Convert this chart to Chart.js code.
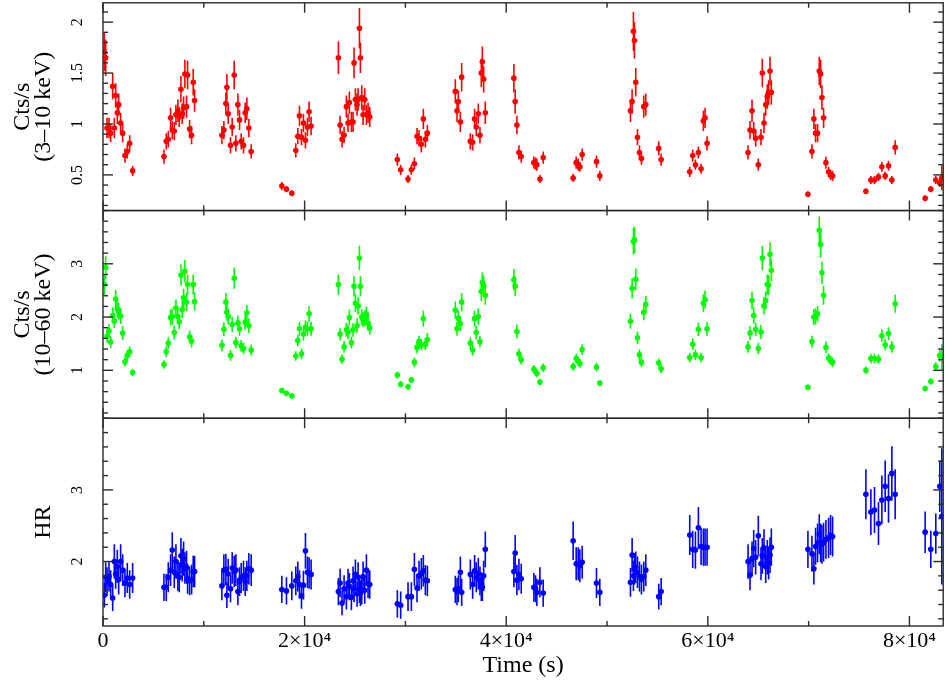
<!DOCTYPE html>
<html>
<head>
<meta charset="utf-8">
<script src="https://cdn.jsdelivr.net/npm/chart.js"></script>
<style>
  html, body { margin: 0; padding: 0; background: #ffffff; }
  #c { display: block; }
</style>
</head>
<body>
<canvas id="c" width="946" height="684"></canvas>
<script>
// ---------- data ----------
// time bins (s)
const times = [
  130, 265, 400, 595, 760, 960, 1125, 1255, 1420, 1555, 1750, 1950, 2180, 2410, 2645, 2940,
  6045, 6275, 6475, 6705, 6870, 7070, 7235, 7430, 7565, 7730, 7860, 7995, 8125, 8290, 8390, 8590, 8790, 8950, 9085,
  11795, 11990, 12190, 12290, 12420, 12650, 12815, 13015, 13180, 13380, 13545, 13710, 13940, 14105, 14270, 14470, 14700,
  17740, 18200, 18730, 19125, 19325, 19490, 19690, 19885, 20085, 20280, 20445, 20645,
  23350, 23520, 23715, 23915, 24145, 24310, 24440, 24640, 24805, 24905, 25040, 25205, 25305, 25440, 25535, 25670, 25800, 25965, 26130, 26295, 26460,
  29200, 29530, 30260, 30590, 30890, 31150, 31350, 31580, 31780, 31980, 32180,
  34950, 35120, 35250, 35450, 35580, 36440, 36670, 36865, 37030, 37230, 37395, 37530, 37630, 37760, 37925,
  40760, 40890, 41060, 41260, 41490, 42745, 42910, 43040, 43340, 43670,
  46640, 46940, 47140, 47305, 47535, 48955, 49285,
  52325, 52490, 52620, 52720, 52850, 53020, 53220, 53415, 53645, 53845, 55130, 55370,
  58205, 58500, 58770, 59065, 59330, 59560, 59725, 59925,
  63990, 64185, 64385, 64550, 64745, 65010, 65275, 65405, 65575, 65740, 65900, 66035, 66170, 66300,
  69930, 70325, 70520, 70690, 70885, 71055, 71190, 71320, 71485, 71715, 71980, 72175, 72375,
  75680, 76175, 76535, 76930, 77265, 77595, 77925, 78255, 78585,
  81560, 82120, 82615, 83010, 83210
];

// 3-10 keV count rate (Cts/s)
const soft = [
  1.71, 1.65, 0.96, 0.96, 0.91, 1.37, 0.96, 1.28, 1.11, 1.19, 1.01, 0.91, 0.69, 0.73, 0.81, 0.54,
  0.68, 0.83, 0.85, 1.06, 0.94, 0.93, 1.09, 1.13, 1.07, 1.34, 1.10, 1.16, 1.49, 1.17, 1.48, 0.95, 0.89, 1.41, 1.23,
  0.89, 0.94, 1.20, 1.36, 1.10, 0.79, 0.97, 1.48, 0.81, 1.19, 1.04, 0.83, 0.79, 1.11, 1.15, 0.96, 0.73,
  0.39, 0.36, 0.32, 0.74, 0.88, 1.08, 0.87, 1.01, 0.84, 0.97, 1.12, 0.98,
  1.65, 0.99, 0.85, 0.89, 1.17, 1.01, 1.21, 1.02, 1.02, 1.60, 1.24, 1.19, 1.24, 1.94, 1.65, 1.26, 1.09, 1.24, 1.09, 1.11, 1.07,
  0.65, 0.55, 0.46, 0.55, 0.61, 0.88, 0.86, 0.80, 1.05, 0.85, 0.91,
  1.32, 1.13, 1.22, 1.02, 1.46, 0.83, 0.82, 1.05, 0.97, 1.10, 0.89, 1.50, 1.61, 1.44, 1.11,
  1.45, 1.22, 0.99, 0.72, 0.68, 0.62, 0.61, 0.60, 0.46, 0.67,
  0.47, 0.62, 0.60, 0.58, 0.70, 0.63, 0.49,
  1.13, 1.22, 1.91, 1.82, 1.41, 0.87, 0.72, 0.66, 1.17, 1.19, 0.76, 0.65,
  0.53, 0.69, 0.60, 0.72, 0.56, 1.03, 1.06, 0.81,
  0.72, 0.94, 1.13, 0.93, 0.86, 0.60, 0.87, 1.50, 1.01, 1.19, 1.27, 1.31, 1.52, 1.31,
  0.31, 0.73, 1.05, 0.91, 0.91, 1.52, 1.49, 1.26, 1.06, 0.62, 0.53, 0.50, 0.49,
  0.34, 0.45, 0.45, 0.48, 0.58, 0.49, 0.59, 0.45, 0.77,
  0.27, 0.36, 0.45, 0.42, 0.47
];
const softErr = [
  0.19, 0.18, 0.10, 0.10, 0.09, 0.13, 0.10, 0.12, 0.11, 0.11, 0.10, 0.09, 0.07, 0.07, 0.08, 0.05,
  0.07, 0.08, 0.08, 0.10, 0.09, 0.09, 0.10, 0.11, 0.10, 0.13, 0.10, 0.11, 0.14, 0.11, 0.14, 0.09, 0.09, 0.13, 0.11,
  0.09, 0.09, 0.11, 0.13, 0.10, 0.08, 0.09, 0.14, 0.08, 0.11, 0.10, 0.08, 0.08, 0.10, 0.11, 0.09, 0.07,
  0.04, 0.03, 0.03, 0.07, 0.08, 0.10, 0.08, 0.09, 0.08, 0.09, 0.10, 0.09,
  0.16, 0.09, 0.08, 0.08, 0.11, 0.09, 0.11, 0.10, 0.10, 0.15, 0.11, 0.11, 0.11, 0.20, 0.15, 0.12, 0.10, 0.11, 0.10, 0.10, 0.10,
  0.06, 0.05, 0.04, 0.05, 0.06, 0.08, 0.08, 0.08, 0.10, 0.08, 0.08,
  0.12, 0.11, 0.11, 0.10, 0.14, 0.08, 0.08, 0.10, 0.09, 0.10, 0.08, 0.14, 0.15, 0.13, 0.11,
  0.14, 0.12, 0.09, 0.07, 0.06, 0.06, 0.06, 0.06, 0.04, 0.06,
  0.04, 0.06, 0.06, 0.05, 0.06, 0.06, 0.05,
  0.11, 0.12, 0.19, 0.18, 0.14, 0.08, 0.07, 0.06, 0.11, 0.11, 0.07, 0.06,
  0.05, 0.06, 0.05, 0.06, 0.05, 0.10, 0.10, 0.07,
  0.07, 0.09, 0.11, 0.09, 0.08, 0.06, 0.08, 0.14, 0.10, 0.11, 0.12, 0.12, 0.14, 0.12,
  0.03, 0.07, 0.10, 0.09, 0.09, 0.14, 0.14, 0.12, 0.10, 0.06, 0.05, 0.05, 0.05,
  0.03, 0.04, 0.04, 0.04, 0.05, 0.04, 0.05, 0.04, 0.07,
  0.03, 0.03, 0.04, 0.04, 0.12
];

// 10-60 keV count rate (Cts/s)
const hard = [
  2.61, 2.93, 1.64, 1.74, 1.53, 2.03, 1.93, 2.34, 2.15, 2.11, 2.02, 1.70, 1.16, 1.28, 1.35, 0.96,
  1.11, 1.35, 1.51, 1.99, 2.01, 1.71, 2.17, 2.01, 1.91, 2.79, 2.14, 2.36, 2.86, 2.28, 2.61, 1.63, 1.55, 2.61, 2.29,
  1.47, 1.77, 2.28, 2.09, 2.01, 1.28, 1.86, 2.73, 1.52, 1.89, 1.78, 1.46, 1.41, 1.90, 2.08, 1.84, 1.38,
  0.62, 0.57, 0.52, 1.27, 1.56, 1.78, 1.31, 1.68, 1.81, 1.78, 2.06, 1.78,
  2.61, 1.68, 1.21, 1.44, 1.76, 1.72, 1.99, 1.52, 1.76, 2.58, 2.26, 1.84, 2.21, 3.11, 2.58, 2.00, 1.95, 1.98, 2.05, 1.88, 1.80,
  0.91, 0.74, 0.69, 0.82, 1.15, 1.43, 1.54, 1.48, 1.97, 1.49, 1.58,
  2.13, 1.78, 1.98, 1.88, 2.28, 1.51, 1.38, 1.97, 1.71, 2.01, 1.54, 2.48, 2.65, 2.59, 2.41,
  2.70, 2.58, 1.73, 1.31, 1.20, 1.02, 0.98, 0.94, 0.78, 1.05,
  1.07, 1.22, 1.17, 1.13, 1.39, 1.06, 0.76,
  1.92, 2.54, 3.42, 3.45, 2.71, 1.61, 1.29, 1.15, 2.09, 2.24, 1.14, 1.03,
  1.24, 1.49, 1.29, 1.77, 1.24, 2.26, 2.33, 1.78,
  1.44, 1.70, 2.31, 2.03, 1.77, 1.41, 1.72, 3.11, 2.21, 2.31, 2.61, 2.60, 3.18, 2.88,
  0.68, 1.54, 2.00, 2.01, 2.06, 3.63, 3.36, 2.83, 2.41, 1.43, 1.23, 1.19, 1.15,
  1.00, 1.22, 1.22, 1.21, 1.65, 1.48, 1.69, 1.44, 2.25,
  0.66, 0.79, 1.07, 1.28, 1.24
];
const hardErr = [
  0.20, 0.22, 0.12, 0.13, 0.11, 0.15, 0.14, 0.17, 0.16, 0.16, 0.15, 0.13, 0.09, 0.10, 0.10, 0.07,
  0.08, 0.10, 0.11, 0.15, 0.15, 0.13, 0.16, 0.15, 0.14, 0.20, 0.16, 0.17, 0.21, 0.17, 0.19, 0.12, 0.12, 0.19, 0.17,
  0.11, 0.13, 0.17, 0.16, 0.15, 0.10, 0.14, 0.20, 0.11, 0.14, 0.13, 0.11, 0.11, 0.14, 0.15, 0.14, 0.10,
  0.04, 0.04, 0.04, 0.09, 0.11, 0.13, 0.10, 0.12, 0.13, 0.13, 0.15, 0.13,
  0.19, 0.12, 0.09, 0.11, 0.13, 0.13, 0.15, 0.11, 0.13, 0.19, 0.17, 0.14, 0.16, 0.23, 0.19, 0.15, 0.14, 0.15, 0.15, 0.14, 0.13,
  0.07, 0.06, 0.05, 0.06, 0.09, 0.11, 0.11, 0.11, 0.15, 0.11, 0.12,
  0.16, 0.13, 0.15, 0.14, 0.17, 0.11, 0.10, 0.15, 0.13, 0.15, 0.11, 0.18, 0.19, 0.19, 0.18,
  0.20, 0.19, 0.13, 0.10, 0.09, 0.08, 0.07, 0.07, 0.06, 0.08,
  0.08, 0.09, 0.09, 0.08, 0.10, 0.08, 0.06,
  0.14, 0.19, 0.25, 0.25, 0.20, 0.12, 0.10, 0.09, 0.15, 0.16, 0.08, 0.08,
  0.09, 0.11, 0.10, 0.13, 0.09, 0.17, 0.17, 0.13,
  0.11, 0.13, 0.17, 0.15, 0.13, 0.11, 0.13, 0.23, 0.16, 0.17, 0.19, 0.19, 0.23, 0.21,
  0.05, 0.11, 0.15, 0.15, 0.15, 0.26, 0.24, 0.21, 0.18, 0.11, 0.09, 0.09, 0.09,
  0.07, 0.09, 0.09, 0.09, 0.12, 0.11, 0.12, 0.11, 0.17,
  0.05, 0.06, 0.08, 0.12, 0.25
];

// hardness ratio
const hr = [
  1.53, 1.78, 1.72, 1.79, 1.68, 1.49, 2.00, 1.83, 1.93, 1.75, 2.00, 1.88, 1.70, 1.77, 1.68, 1.77,
  1.64, 1.64, 1.78, 1.88, 2.16, 1.85, 2.00, 1.80, 1.78, 2.08, 1.95, 2.04, 1.91, 1.92, 1.76, 1.73, 1.75, 1.86, 1.86,
  1.66, 1.88, 1.89, 1.53, 1.83, 1.62, 1.91, 1.86, 1.88, 1.58, 1.72, 1.77, 1.80, 1.72, 1.80, 1.90, 1.88,
  1.61, 1.59, 1.66, 1.73, 1.79, 1.68, 1.52, 1.67, 2.15, 1.85, 1.84, 1.82,
  1.58, 1.70, 1.42, 1.62, 1.51, 1.70, 1.65, 1.50, 1.73, 1.62, 1.82, 1.55, 1.78, 1.61, 1.56, 1.59, 1.79, 1.60, 1.88, 1.69, 1.68,
  1.41, 1.39, 1.51, 1.51, 1.89, 1.63, 1.80, 1.83, 1.87, 1.74, 1.73,
  1.61, 1.58, 1.62, 1.85, 1.57, 1.82, 1.68, 1.87, 1.78, 1.83, 1.73, 1.65, 1.64, 1.80, 2.17,
  1.86, 2.12, 1.74, 1.82, 1.76, 1.64, 1.62, 1.57, 1.71, 1.56,
  2.29, 1.97, 1.97, 1.94, 1.99, 1.70, 1.57,
  1.71, 2.09, 1.80, 1.90, 1.92, 1.85, 1.79, 1.75, 1.79, 1.88, 1.51, 1.58,
  2.37, 2.17, 2.16, 2.47, 2.21, 2.20, 2.20, 2.20,
  2.00, 1.81, 2.04, 2.18, 2.06, 2.36, 1.97, 2.08, 2.19, 1.93, 2.06, 1.98, 2.09, 2.20,
  2.17, 2.11, 1.90, 2.21, 2.26, 2.38, 2.26, 2.24, 2.27, 2.31, 2.33, 2.37, 2.35,
  2.94, 2.69, 2.72, 2.53, 2.86, 3.05, 2.88, 3.23, 2.94,
  2.41, 2.17, 2.39, 3.05, 2.63
];
const hrErr = [
  0.17, 0.21, 0.20, 0.21, 0.20, 0.18, 0.24, 0.21, 0.23, 0.21, 0.24, 0.22, 0.20, 0.21, 0.20, 0.21,
  0.19, 0.19, 0.21, 0.22, 0.25, 0.22, 0.24, 0.21, 0.21, 0.25, 0.23, 0.24, 0.22, 0.23, 0.21, 0.20, 0.21, 0.22, 0.22,
  0.20, 0.22, 0.22, 0.18, 0.21, 0.19, 0.22, 0.22, 0.22, 0.19, 0.20, 0.21, 0.21, 0.20, 0.21, 0.22, 0.22,
  0.19, 0.19, 0.20, 0.20, 0.21, 0.20, 0.18, 0.20, 0.25, 0.22, 0.22, 0.21,
  0.19, 0.20, 0.17, 0.19, 0.18, 0.20, 0.19, 0.18, 0.20, 0.19, 0.21, 0.18, 0.21, 0.19, 0.18, 0.19, 0.21, 0.19, 0.22, 0.20, 0.20,
  0.19, 0.19, 0.20, 0.20, 0.23, 0.20, 0.21, 0.22, 0.22, 0.21, 0.21,
  0.19, 0.19, 0.19, 0.22, 0.19, 0.21, 0.20, 0.22, 0.21, 0.22, 0.20, 0.20, 0.19, 0.21, 0.25,
  0.22, 0.25, 0.21, 0.22, 0.21, 0.20, 0.19, 0.19, 0.21, 0.19,
  0.27, 0.23, 0.23, 0.23, 0.23, 0.21, 0.19,
  0.20, 0.24, 0.21, 0.22, 0.22, 0.22, 0.21, 0.21, 0.21, 0.22, 0.18, 0.19,
  0.28, 0.26, 0.26, 0.29, 0.26, 0.26, 0.26, 0.26,
  0.24, 0.21, 0.24, 0.26, 0.24, 0.28, 0.23, 0.25, 0.26, 0.23, 0.24, 0.23, 0.25, 0.26,
  0.26, 0.25, 0.22, 0.26, 0.27, 0.28, 0.27, 0.27, 0.27, 0.27, 0.28, 0.28, 0.28,
  0.35, 0.32, 0.32, 0.30, 0.34, 0.36, 0.34, 0.38, 0.35,
  0.29, 0.26, 0.28, 0.36, 0.95
];

// tick labels
const timeTicks = [0, 20000, 40000, 60000, 80000];
const softTicks = [0.5, 1, 1.5, 2];
const hardTicks = [1, 2, 3];
const hrTicks = [2, 3];

// ---------- styling / layout ----------
const SERIF = '"Liberation Serif", "DejaVu Serif", serif';
const X_MIN = 0, X_MAX = 83350;
const X_MINOR = 10000, X_MAJOR = 20000;
const panels = [
  { id: 'ySoft', vals: soft, errs: softErr, color: '#ff0000', minor: 0.1 },
  { id: 'yHard', vals: hard, errs: hardErr, color: '#00ff00', minor: 0.2 },
  { id: 'yHR',   vals: hr,   errs: hrErr,   color: '#0000ff', minor: 0.2 }
];

function fmtTime(v) {
  if (v === 0) return '0';
  return (v / 10000) + '\u00d710\u2074';
}

const panelPlugin = {
  id: 'panelPlugin',
  beforeDatasetsDraw(chart) {
    const { ctx, chartArea: a, scales } = chart;
    const xs = scales.x;
    panels.forEach(p => {
      const s = scales[p.id];
      ctx.save();
      ctx.beginPath();
      ctx.rect(a.left, s.top, a.right - a.left, s.bottom - s.top);
      ctx.clip();
      ctx.strokeStyle = p.color;
      ctx.lineWidth = 1.6;
      times.forEach((t, i) => {
        const x = xs.getPixelForValue(t);
        ctx.beginPath();
        ctx.moveTo(x, s.getPixelForValue(p.vals[i] - p.errs[i]));
        ctx.lineTo(x, s.getPixelForValue(p.vals[i] + p.errs[i]));
        ctx.stroke();
      });
      ctx.restore();
    });
  },
  afterDraw(chart) {
    const { ctx, chartArea: a, scales } = chart;
    const xs = scales.x;
    ctx.save();
    ctx.strokeStyle = '#2a2a2a';
    ctx.lineWidth = 1.4;
    const seg = (x1, y1, x2, y2) => { ctx.beginPath(); ctx.moveTo(x1, y1); ctx.lineTo(x2, y2); ctx.stroke(); };
    panels.forEach(p => {
      const s = scales[p.id];
      const top = s.top, bot = s.bottom;
      ctx.strokeRect(a.left, top, a.right - a.left, bot - top);
      const majors = s.ticks.map(t => t.value);
      const n0 = Math.ceil(s.min / p.minor - 1e-9), n1 = Math.floor(s.max / p.minor + 1e-9);
      for (let n = n0; n <= n1; n++) {
        const v = Math.round(n * p.minor * 1000) / 1000;
        const isMajor = majors.some(m => Math.abs(m - v) < 1e-6);
        const len = isMajor ? 10 : 5;
        const y = s.getPixelForValue(v);
        seg(a.left, y, a.left + len, y);
        seg(a.right, y, a.right - len, y);
      }
      for (let t = X_MIN; t <= X_MAX; t += X_MINOR) {
        const x = xs.getPixelForValue(t);
        const len = (t % X_MAJOR === 0) ? 10 : 5;
        seg(x, top, x, top + len);
        seg(x, bot, x, bot - len);
      }
      // rotated tick labels (read bottom to top, like the reference)
      ctx.fillStyle = '#000';
      ctx.font = '16px ' + SERIF;
      ctx.textAlign = 'center';
      ctx.textBaseline = 'alphabetic';
      s.ticks.forEach(tk => {
        const y = s.getPixelForValue(tk.value);
        ctx.save();
        ctx.translate(82, y);
        ctx.rotate(-Math.PI / 2);
        ctx.fillText(String(tk.value), 0, 0);
        ctx.restore();
      });
    });
    ctx.restore();
  }
};

function yScale(id, min, max, ticksArr, weight, titleLines) {
  return {
    type: 'linear',
    position: 'left',
    stack: 'panels',
    stackWeight: 1,
    weight: weight,
    min: min,
    max: max,
    grid: { display: false, drawTicks: false },
    border: { display: false },
    ticks: { display: false },
    afterBuildTicks: s => { s.ticks = ticksArr.map(v => ({ value: v })); },
    afterFit: s => { s.width = 103; },
    title: {
      display: true,
      text: titleLines,
      color: '#000',
      font: { family: SERIF, size: 24, lineHeight: 0.88 },
      padding: { top: 12, bottom: 0 }
    }
  };
}

const point = (color) => ({
  backgroundColor: color,
  borderColor: color,
  borderWidth: 0,
  pointRadius: 2.8,
  pointHoverRadius: 2.8
});

new Chart(document.getElementById('c'), {
  type: 'scatter',
  data: {
    datasets: [
      Object.assign({ label: '3-10 keV', yAxisID: 'ySoft', data: times.map((t, i) => ({ x: t, y: soft[i] })) }, point('#ff0000')),
      Object.assign({ label: '10-60 keV', yAxisID: 'yHard', data: times.map((t, i) => ({ x: t, y: hard[i] })) }, point('#00ff00')),
      Object.assign({ label: 'HR', yAxisID: 'yHR', data: times.map((t, i) => ({ x: t, y: hr[i] })) }, point('#0000ff'))
    ]
  },
  options: {
    responsive: false,
    animation: false,
    devicePixelRatio: 1,
    events: [],
    layout: { padding: { top: 1, right: 2, left: 0, bottom: 0 } },
    plugins: { legend: { display: false }, tooltip: { enabled: false } },
    scales: {
      x: {
        type: 'linear',
        position: 'bottom',
        min: X_MIN,
        max: X_MAX,
        grid: { display: false, drawTicks: false },
        border: { display: false },
        afterBuildTicks: s => { s.ticks = timeTicks.map(v => ({ value: v })); },
        afterFit: s => { s.height = 58; },
        ticks: {
          color: '#000',
          font: { family: SERIF, size: 22 },
          padding: 2,
          maxRotation: 0,
          minRotation: 0,
          autoSkip: false,
          callback: v => fmtTime(v)
        },
        title: {
          display: true,
          text: 'Time (s)',
          color: '#000',
          font: { family: SERIF, size: 24 },
          padding: { top: 0, bottom: 4 }
        }
      },
      ySoft: yScale('ySoft', 0.15, 2.19, softTicks, 3, ['Cts/s', '(3\u201310 keV)']),
      yHard: yScale('yHard', 0.1, 4.0, hardTicks, 2, ['Cts/s', '(10\u201360 keV)']),
      yHR:   yScale('yHR', 1.1, 4.0, hrTicks, 1, ['', 'HR'])
    }
  },
  plugins: [panelPlugin]
});
</script>
</body>
</html>
